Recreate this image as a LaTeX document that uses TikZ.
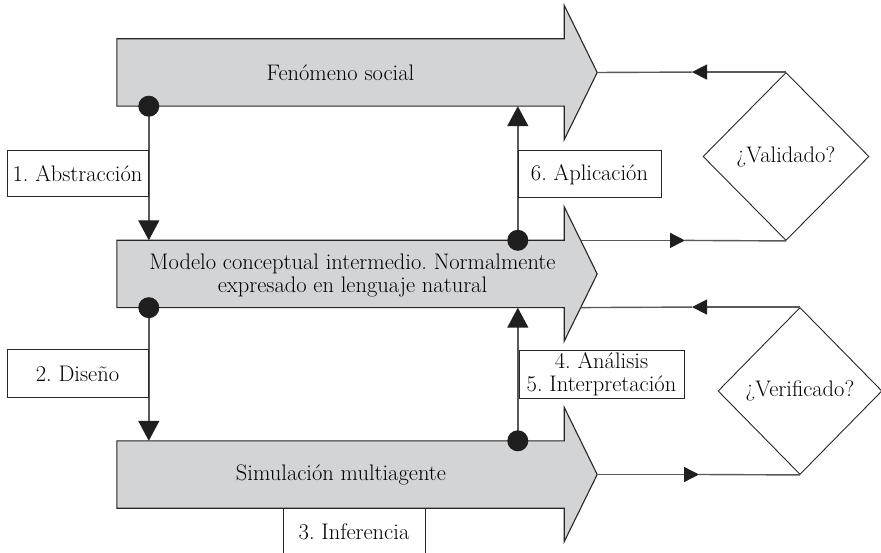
\documentclass[tikz,border=0pt]{standalone}
\usetikzlibrary{shapes.geometric,arrows.meta,calc,backgrounds}
\definecolor{flowgrey}{HTML}{D3D4D6}

% Outline of a broad flow arrow built on a rectangular body node #1
\newcommand\flowarrow[1]{%
  \coordinate (#1-tip) at ($(#1.east)+(33,0)$);
  \coordinate (#1-ht) at ($(#1.north east)+(0,-33.5)$);
  \coordinate (#1-hb) at ($(#1.south east)+(0,33.5)$);
  \coordinate (#1-ue) at ($(#1-ht)!0.5!(#1-tip)$);
  \coordinate (#1-le) at ($(#1-hb)!0.5!(#1-tip)$);
  \begin{scope}[on background layer]
    \draw[bigarrow] (#1.north west) -- (#1.north east) -- (#1-ht) -- (#1-tip)
      -- (#1-hb) -- (#1.south east) -- (#1.south west) -- cycle;
  \end{scope}}

\begin{document}
\frenchspacing
\begin{tikzpicture}[x=1pt,y=-1pt,
  font=\fontsize{22.5}{23}\selectfont,
  bigarrow/.style={draw=black!85, line width=1.1pt, fill=flowgrey, line join=miter},
  body/.style={minimum width=447pt, minimum height=67pt, inner sep=0pt},
  bodytext/.style={inner sep=0pt, align=center},
  stage/.style={draw=black!85, line width=1pt, fill=white, inner sep=0pt, align=center},
  dot/.style={circle, fill=black!88, minimum size=21pt, inner sep=0pt},
  conn/.style={draw=black!65, line width=1.4pt},
  bigtip/.style={-{Triangle[length=20pt,width=21pt,color=black!88]}},
  smalltip/.style={-{Triangle[length=15pt,width=15pt,color=black!88]}},
  query/.style={diamond, draw=black!85, line width=0.9pt, inner sep=0pt}
]
\useasboundingbox (0,0) rectangle (881,553);

% the three levels
\node[body] (fen) at (340.5,72.5) {};
\node[body] (mod) at (340.5,274) {};
\node[body] (sim) at (340.5,474.5) {};
\flowarrow{fen}
\flowarrow{mod}
\flowarrow{sim}

\node[bodytext] (fentext) at (340.5,72.5) {Fenómeno social};
\node[bodytext] (modtext) at (352.5,275) {Modelo conceptual intermedio. Normalmente\\expresado en lenguaje natural};
\node[bodytext] (simtext) at (341,474.5) {Simulación multiagente};

% decisions
\node[query, minimum width=166pt, minimum height=168pt] (val) at (786,156.5) {¿Validado?};
\node[query, minimum width=164pt, minimum height=167pt] (ver) at (800,391) {¿Verificado?};

% junction points
\coordinate (d1) at ($(fen.south west)+(32,0)$);
\coordinate (d2) at ($(mod.south west)+(32,0)$);
\coordinate (d3) at ($(mod.north west)+(401,0)$);
\coordinate (d4) at ($(sim.north west)+(401,0)$);

% vertical transitions
\draw[conn,bigtip] (d1) -- (d1 |- mod.north);
\draw[conn,bigtip] (d2) -- (d2 |- sim.north);
\draw[conn,bigtip] (d3) -- (d3 |- fen.south);
\draw[conn,bigtip] (d4) -- (d4 |- mod.south);

% feedback loops through the decisions
\coordinate (m1) at (692,0);
\coordinate (m2) at (685,0);
\coordinate (m3) at (692,0);
\coordinate (m4) at (699,0);
\draw[conn,smalltip] (val.north) -- (m1 |- val.north);
\draw[conn] (m1 |- val.north) -- (fen-tip);
\draw[conn,smalltip] (mod-ue) -- (m2 |- mod-ue);
\draw[conn] (m2 |- mod-ue) -- (val.south);
\draw[conn,smalltip] (ver.north) -- (m3 |- ver.north);
\draw[conn] (m3 |- ver.north) -- (mod-le);
\draw[conn,smalltip] (sim-tip) -- (m4 |- sim-tip);
\draw[conn] (m4 |- sim-tip) -- (ver.south);

% junction dots
\foreach \d in {d1,d2,d3,d4} \node[dot] at (\d) {};

% stage labels
\node[stage, minimum width=141pt, minimum height=46pt] (abs) at (77.5,174) {1. Abstracción};
\node[stage, minimum width=141pt, minimum height=47pt] (dis) at (77.5,373.5) {2. Diseño};
\node[stage, minimum width=143pt, minimum height=47pt] (apl) at (589.5,174.5) {6. Aplicación};
\node[stage, minimum width=165pt, minimum height=47pt] (ana) at (601.5,374.5) {4. Análisis\\5. Interpretación};
\node[stage, minimum width=142pt, minimum height=48pt] (inf) at (354,532) {3. Inferencia};
\end{tikzpicture}
\end{document}
